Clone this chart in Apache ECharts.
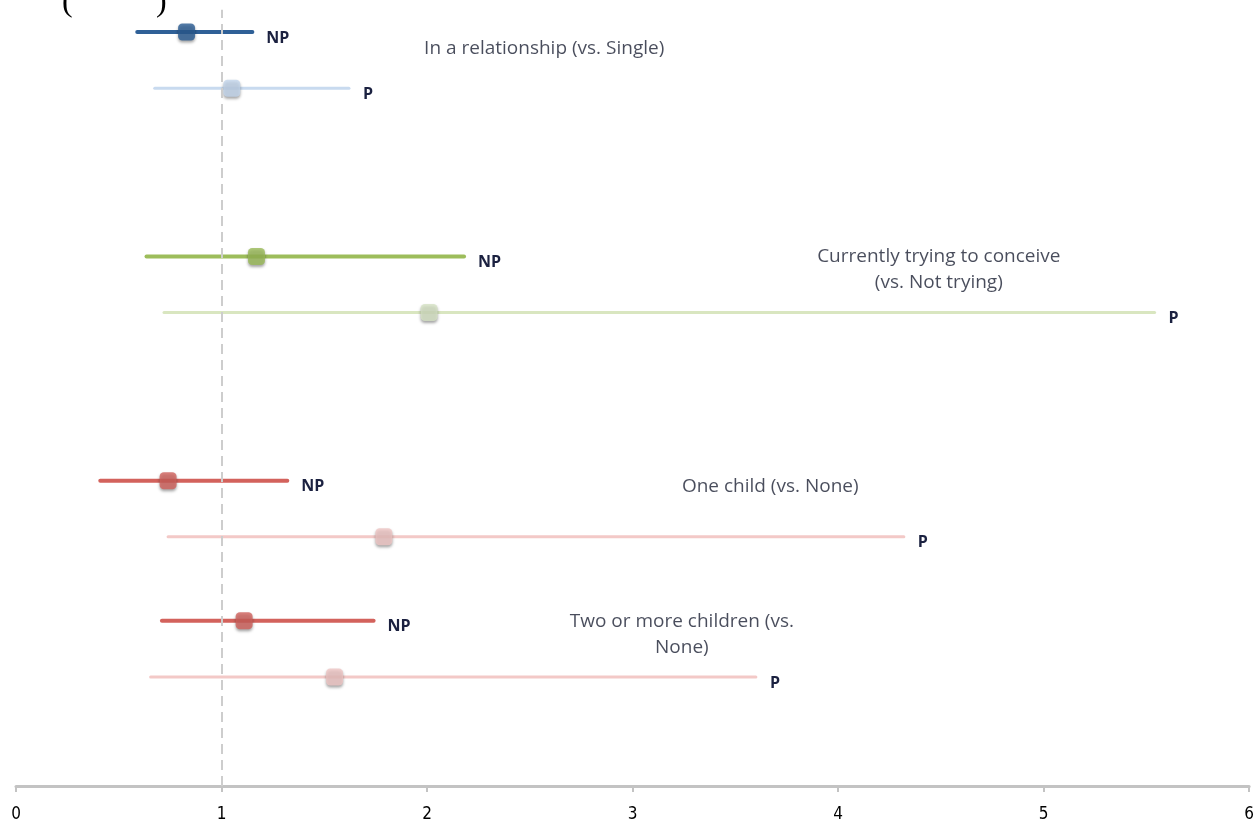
<!DOCTYPE html>
<html>
<head>
<meta charset="utf-8">
<script src="https://cdn.jsdelivr.net/npm/echarts@6/dist/echarts.min.js"></script>
<style>
  html, body { margin: 0; padding: 0; background: #fff; }
  #chart { width: 1257px; height: 827px; }
</style>
</head>
<body>
<div id="chart"></div>
<script>
// Odds ratios with 95% confidence intervals, non-pregnant (NP) vs pregnant (P)
const rowNames  = ['NP', 'P', 'NP', 'P', 'NP', 'P', 'NP', 'P'];
const rowPos    = [13.5, 12.5, 9.5, 8.5, 5.5, 4.5, 3, 2];
const estimate  = [0.83, 1.05, 1.17, 2.01, 0.74, 1.79, 1.11, 1.55];
const lower     = [0.59, 0.675, 0.635, 0.72, 0.41, 0.74, 0.71, 0.655];
const upper     = [1.15, 1.62, 2.18, 5.54, 1.32, 4.32, 1.74, 3.60];
const groupNames = ['In a relationship (vs. Single)', 'Currently trying to conceive\n(vs. Not trying)',
                    'One child (vs. None)', 'Two or more children (vs.\nNone)'];
const groupAnchor = [[2.57, 13.2], [4.49, 9.26], [3.67, 5.4], [3.24, 2.75]];
const xTicks = [0, 1, 2, 3, 4, 5, 6];

const lineColors   = ['#2F6097', '#C8DAEF', '#9DBD5B', '#D9E6C0', '#D3625C', '#F3C9C7', '#D3625C', '#F3C9C7'];
const markerColors = ['#2B5C94', '#C3D6EC', '#9ABA58', '#D6E2C4', '#D1615C', '#EFC6C4', '#D1615C', '#EFC6C4'];
const lineWidths   = [4, 3, 4, 3, 4, 3, 4, 3];

const narrow = "'Liberation Sans Narrow', 'DejaVu Sans Condensed', sans-serif";
const textFont = "'Open Sans', Lato, sans-serif";

const chart = echarts.init(document.getElementById('chart'), null, { renderer: 'canvas' });

const ciData = rowNames.map((n, i) => [lower[i], upper[i], rowPos[i], i]);
const estData = estimate.map((v, i) => ({
  value: [v, rowPos[i]],
  itemStyle: { color: markerColors[i] }
}));

chart.setOption({
  animation: false,
  backgroundColor: '#fff',
  grid: { left: 16, right: 5, top: 1, bottom: 41, containLabel: false },
  xAxis: {
    type: 'value', min: 0, max: 6, interval: 1,
    axisLine: { show: true, lineStyle: { color: '#C3C3C3', width: 3 } },
    axisTick: { show: true, length: 6, lineStyle: { color: '#C3C3C3', width: 2 } },
    axisLabel: {
      margin: 20, color: '#000', fontSize: 17, fontFamily: narrow,
      formatter: v => xTicks.includes(v) ? String(v) : ''
    },
    splitLine: { show: false }
  },
  yAxis: { type: 'value', min: 0.055, max: 14.055, show: false },
  graphic: [
    { type: 'text', left: 62, top: -13, style: { text: '(', font: '32px "Liberation Serif", serif', fill: '#000' } },
    { type: 'text', left: 156, top: -13, style: { text: ')', font: '32px "Liberation Serif", serif', fill: '#000' } }
  ],
  series: [
    {
      // confidence interval bars with their NP / P tags
      type: 'custom',
      data: ciData,
      encode: { x: [0, 1], y: 2 },
      z: 2,
      renderItem: (params, api) => {
        const i = api.value(3);
        const p0 = api.coord([api.value(0), api.value(2)]);
        const p1 = api.coord([api.value(1), api.value(2)]);
        return {
          type: 'group',
          children: [
            {
              type: 'line',
              shape: { x1: p0[0], y1: p0[1], x2: p1[0], y2: p1[1] },
              style: { stroke: lineColors[i], lineWidth: lineWidths[i], lineCap: 'round' }
            },
            {
              type: 'text',
              x: p1[0] + 14, y: p1[1] + 6,
              style: {
                text: rowNames[i], fill: '#1B2140',
                font: 'bold 16px ' + textFont,
                verticalAlign: 'middle', align: 'left'
              }
            }
          ]
        };
      }
    },
    {
      // point estimates
      type: 'scatter',
      data: estData,
      symbol: 'roundRect',
      symbolSize: 17,
      z: 3,
      itemStyle: { shadowColor: 'rgba(0,0,0,0.45)', shadowBlur: 3, shadowOffsetY: 2 },
      markLine: {
        silent: true,
        symbol: 'none',
        label: { show: false },
        lineStyle: { color: '#CDCDCD', type: [10, 6], width: 2 },
        data: [[{ coord: [1, 0.055] }, { coord: [1, 13.9] }]]
      }
    },
    {
      // group descriptions
      type: 'scatter',
      data: groupAnchor.map((a, i) => ({ value: a, name: groupNames[i] })),
      symbolSize: 0,
      silent: true,
      label: {
        show: true, position: 'inside',
        formatter: p => p.name,
        color: '#1C2033', fontSize: 19, fontFamily: textFont,
        lineHeight: 26, align: 'center'
      }
    }
  ]
});
</script>
</body>
</html>
